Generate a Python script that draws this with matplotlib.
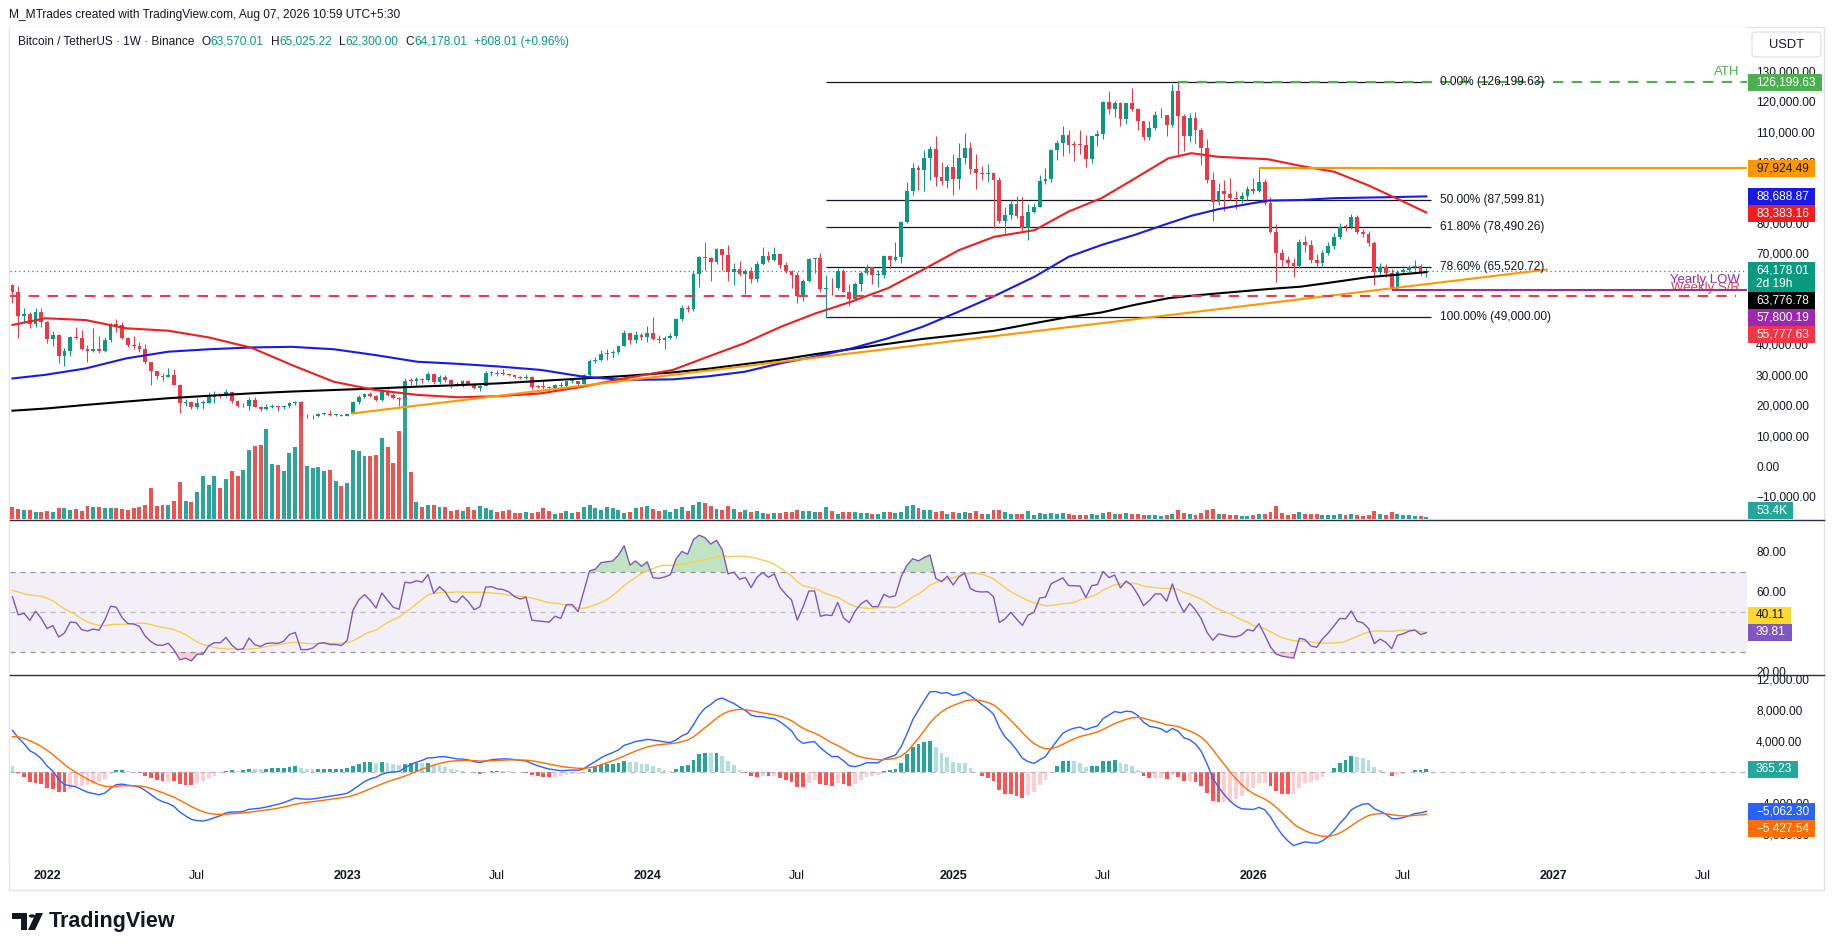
import numpy as np
import pandas as pd
import matplotlib
matplotlib.use("Agg")
import matplotlib.pyplot as plt
import matplotlib.dates as mdates
from matplotlib.patches import Rectangle, Polygon, Circle, FancyBboxPatch
from matplotlib.lines import Line2D

plt.rcParams['font.family'] = ['Liberation Sans', 'DejaVu Sans']

# ---------------- data (prices in thousand USDT) ----------------
# weekly closes before the visible window (Jul 2020 .. Nov 2021), only used to warm up RSI / MACD
warmup_closes = [9.3, 9.2, 9.9, 11.1, 11.7, 11.9, 11.7, 11.7, 10.3, 10.3, 10.9, 10.8, 10.7,
                 11.4, 11.5, 13.0, 13.8, 15.5, 16.0, 18.4, 18.2, 19.4, 19.2, 23.9, 26.3, 33.0,
                 38.2, 35.8, 32.3, 33.1, 39.3, 48.6, 57.5, 45.2, 51.2, 59.0, 57.5, 55.8, 58.2,
                 60.0, 56.2, 49.1, 56.6, 58.2, 46.4, 34.7, 35.7, 35.8, 39.1, 35.5, 34.7, 35.3,
                 34.3, 31.8, 35.4, 39.9, 43.8, 47.0, 49.3, 48.8, 51.8, 46.0, 47.3, 43.2, 48.2,
                 55.0, 61.5, 61.0, 61.3, 63.3, 65.0, 59.7]

# visible weekly candles, first bar = week of 2021-11-22
close_2021 = [57.3, 49.4, 50.1, 46.7, 50.8, 47.3]
high_2021 = [59.9, 59.1, 51.9, 50.5, 51.9, 52.1]
low_2021 = [53.6, 42.0, 47.1, 45.5, 45.6, 45.7]
vol_2021 = [350, 300, 270, 270, 220, 220]

close_2022 = [41.9, 43.1, 36.3, 37.9, 42.4, 42.2, 38.4, 37.7, 38.4, 37.8, 41.3, 46.8, 46.4,
              42.2, 39.7, 39.5, 38.5, 34.1, 31.3, 29.5, 29.4, 29.9, 26.6, 20.6, 21.0, 19.3,
              20.8, 20.8, 22.6, 23.3, 23.2, 24.3, 21.5, 19.6, 19.8, 21.8, 19.4, 18.8, 19.3,
              19.4, 19.3, 19.6, 20.6, 20.9, 16.3, 16.3, 16.5, 17.1, 17.2, 16.8, 16.8, 16.6]
high_2022 = [47.6, 44.5, 43.5, 38.9, 42.7, 45.8, 44.7, 39.8, 45.4, 42.6, 42.4, 47.0, 48.2,
             47.5, 42.4, 42.9, 40.8, 40.0, 34.3, 31.3, 30.6, 32.4, 31.8, 26.9, 21.9, 21.5,
             22.5, 21.6, 24.3, 24.7, 24.0, 25.2, 24.4, 21.8, 20.6, 22.8, 22.7, 19.9, 20.4,
             20.5, 19.9, 19.7, 21.0, 21.4, 21.5, 17.2, 16.8, 17.4, 17.4, 18.4, 17.0, 17.0]
low_2022 = [40.6, 39.6, 34.0, 32.9, 36.3, 41.7, 38.0, 34.3, 37.5, 37.2, 37.6, 40.9, 44.2,
            41.9, 39.2, 38.6, 37.6, 33.7, 26.7, 28.6, 28.0, 29.3, 26.5, 17.6, 19.6, 18.6,
            18.8, 18.9, 20.7, 20.7, 22.4, 22.6, 20.8, 19.5, 19.5, 18.5, 19.3, 18.1, 18.5,
            19.0, 18.2, 18.9, 19.2, 20.0, 15.6, 15.8, 15.5, 16.0, 16.9, 16.5, 16.3, 16.3]
vol_2022 = [250, 220, 330, 330, 270, 300, 250, 400, 370, 370, 320, 320, 320,
            300, 270, 320, 350, 430, 930, 380, 430, 430, 530, 1120, 550, 500,
            800, 1280, 1030, 1280, 930, 1200, 1430, 1300, 1480, 2080, 2180, 2230, 2700,
            1650, 1630, 1430, 1980, 2150, 3520, 1600, 1530, 1550, 1430, 1480, 1130, 1000]

close_2023 = [17.1, 20.9, 22.7, 23.7, 22.9, 21.8, 24.6, 23.5, 22.4, 22.1, 28.0, 27.9, 28.5,
              28.3, 30.3, 27.6, 29.2, 28.4, 26.9, 26.7, 28.0, 27.1, 25.8, 26.3, 30.5, 30.6,
              30.3, 30.2, 29.9, 29.3, 29.0, 29.3, 26.1, 26.0, 25.9, 25.8, 26.5, 26.2, 27.9,
              27.9, 27.1, 30.0, 34.5, 35.0, 37.0, 37.3, 37.5, 39.5, 43.8, 41.4, 43.0, 42.3]
high_2023 = [17.2, 21.3, 23.4, 23.9, 24.3, 23.2, 25.2, 25.3, 23.9, 22.6, 28.9, 28.9, 29.2,
             28.8, 30.9, 30.5, 30.0, 29.8, 28.6, 27.5, 28.4, 28.4, 27.4, 26.8, 31.4, 31.3,
             31.5, 31.8, 30.4, 30.0, 29.7, 30.2, 29.7, 26.8, 28.1, 26.4, 26.9, 27.5, 28.0,
             28.6, 28.0, 30.3, 35.3, 35.9, 38.0, 38.4, 38.0, 39.6, 44.7, 43.9, 44.4, 43.8]
low_2023 = [16.5, 17.1, 20.4, 22.3, 22.6, 21.4, 21.4, 23.1, 21.9, 19.6, 21.9, 26.6, 26.5,
            27.2, 28.1, 27.1, 26.9, 27.7, 25.8, 26.3, 25.9, 26.5, 25.4, 24.8, 26.2, 29.5,
            29.7, 29.9, 29.5, 28.9, 28.6, 28.7, 25.2, 25.8, 25.3, 24.9, 24.9, 26.0, 26.0,
            27.2, 26.5, 26.9, 29.7, 33.9, 34.5, 34.8, 35.6, 36.9, 39.4, 40.2, 40.5, 41.3]
vol_2023 = [1080, 2080, 2050, 1900, 1900, 1920, 2430, 2170, 1670, 2650, 3600, 1400, 500,
            350, 420, 420, 370, 350, 230, 280, 230, 350, 280, 380, 320, 280,
            220, 250, 280, 180, 170, 220, 180, 200, 320, 250, 150, 180, 250,
            180, 220, 350, 420, 320, 280, 350, 320, 280, 180, 220, 320, 350]

close_2024 = [43.9, 41.7, 41.6, 42.0, 42.6, 48.3, 52.1, 51.7, 63.1, 68.9, 68.4, 67.2, 71.3,
              69.4, 63.9, 64.9, 63.1, 64.0, 61.5, 66.3, 69.0, 67.8, 69.6, 66.2, 64.3, 62.7,
              55.9, 60.8, 68.2, 68.3, 58.1, 58.7, 58.4, 64.2, 57.3, 54.8, 59.9, 63.6, 65.6,
              62.8, 62.9, 69.0, 67.9, 68.7, 80.4, 90.6, 98.0, 97.2, 101.2, 104.3, 95.1, 93.7, 98.3]
high_2024 = [45.9, 49.0, 43.2, 42.8, 43.9, 48.6, 52.8, 52.9, 64.0, 69.2, 73.8, 68.9, 71.8,
             71.3, 72.8, 66.9, 67.3, 64.7, 65.5, 67.4, 71.9, 70.6, 72.0, 70.0, 67.0, 64.5,
             63.8, 61.4, 68.4, 68.5, 70.0, 62.7, 61.8, 65.0, 64.9, 59.8, 60.6, 64.1, 66.5,
             65.6, 64.5, 69.4, 69.5, 73.6, 80.5, 93.3, 99.6, 98.9, 104.0, 105.3, 108.4, 99.9, 98.9]
low_2024 = [40.7, 41.5, 40.6, 38.5, 41.8, 42.2, 47.7, 50.5, 50.9, 59.0, 64.5, 60.8, 66.4,
            64.5, 60.7, 59.6, 62.4, 56.5, 60.2, 60.6, 66.1, 67.1, 67.5, 65.0, 63.4, 58.4,
            53.5, 54.3, 60.6, 63.4, 57.1, 49.0, 56.1, 57.8, 57.2, 52.5, 54.6, 57.5, 62.7,
            59.8, 58.9, 62.0, 65.1, 67.5, 66.8, 80.0, 89.3, 90.8, 90.5, 94.2, 92.2, 92.5, 91.5]
vol_2024 = [380, 300, 250, 280, 220, 300, 350, 250, 420, 500, 470, 380, 300,
            260, 380, 300, 200, 260, 200, 230, 180, 150, 170, 180, 200, 220,
            280, 250, 230, 200, 220, 350, 230, 150, 200, 220, 200, 180, 170,
            150, 150, 200, 200, 170, 220, 380, 420, 320, 280, 260, 200, 230, 160]

close_2025 = [94.5, 101.3, 104.7, 97.7, 96.4, 96.1, 96.3, 94.2, 80.7, 82.6, 86.1, 82.3, 78.4,
              83.7, 85.1, 93.7, 94.3, 104.1, 106.4, 109.0, 105.7, 105.6, 105.5, 100.9, 108.4, 109.2,
              119.8, 117.3, 119.4, 114.2, 119.3, 117.4, 113.5, 108.2, 111.1, 115.3, 115.3, 112.2, 123.5,
              115.1, 108.6, 114.5, 110.5, 104.7, 94.2, 86.8, 90.4, 89.4, 88.2, 87.9, 88.8, 91.2]
high_2025 = [102.7, 106.4, 109.6, 106.5, 102.5, 98.8, 99.5, 96.5, 95.0, 85.3, 87.5, 88.8, 88.5,
             86.1, 86.4, 95.8, 97.9, 104.3, 107.1, 111.9, 110.4, 106.8, 110.6, 108.9, 108.5, 110.5,
             119.9, 123.2, 120.2, 119.8, 119.4, 124.5, 117.6, 113.5, 113.4, 116.7, 117.9, 115.4, 125.7,
             126.19963, 115.9, 116.0, 116.4, 111.2, 107.5, 96.6, 93.1, 94.1, 94.6, 90.4, 90.0, 92.0]
low_2025 = [89.3, 91.2, 99.5, 96.2, 91.2, 94.1, 93.4, 78.3, 80.0, 76.6, 81.2, 81.6, 77.1,
            74.5, 83.1, 85.1, 92.8, 93.4, 100.7, 102.1, 103.1, 100.4, 102.7, 98.2, 99.6, 105.1,
            107.5, 115.7, 114.7, 111.9, 112.6, 116.8, 110.6, 107.3, 107.3, 110.6, 114.4, 108.6, 111.6,
            102.0, 103.5, 106.6, 106.3, 98.9, 93.0, 80.6, 86.0, 83.8, 87.6, 84.4, 86.5, 87.2]
vol_2025 = [200, 180, 210, 190, 230, 150, 140, 260, 280, 200, 150, 140, 160,
            240, 130, 190, 140, 170, 150, 180, 140, 120, 110, 130, 160, 110,
            180, 200, 150, 140, 180, 160, 140, 130, 110, 110, 100, 120, 160,
            280, 190, 150, 130, 180, 260, 300, 150, 140, 120, 130, 90, 100]

close_2026 = [90.3, 93.5, 86.4, 77.0, 70.0, 67.8, 66.8, 65.8, 73.8, 72.7, 67.8, 66.7, 70.0,
              72.4, 75.4, 78.7, 78.5, 82.0, 77.0, 76.2, 73.3, 63.9, 65.6, 63.4, 58.9, 63.9,
              64.5, 65.5, 65.9, 63.57001, 64.17801]
high_2026 = [94.8, 97.92449, 94.5, 88.5, 79.5, 71.5, 69.2, 68.3, 74.8, 75.5, 74.2, 69.6, 70.9,
             73.6, 76.6, 79.8, 79.6, 82.9, 82.6, 78.0, 77.4, 73.9, 66.8, 66.3, 64.9, 64.4,
             65.1, 66.0, 67.6, 66.4, 65.02522]
low_2026 = [89.5, 90.0, 86.0, 76.5, 60.6, 65.7, 65.4, 62.3, 65.2, 70.4, 66.9, 65.3, 65.9,
            69.3, 71.5, 74.8, 77.3, 78.0, 76.3, 75.3, 72.5, 59.5, 62.5, 62.3, 57.80019, 58.3,
            63.0, 63.9, 64.6, 62.9, 62.3]
vol_2026 = [110, 160, 150, 200, 400, 180, 130, 150, 200, 160, 160, 140, 120,
            130, 120, 150, 110, 140, 130, 100, 120, 250, 140, 130, 200, 150,
            120, 110, 100, 90, 53.4]

# moving averages (k USDT)
ma_dates = ['2021-11-22', '2022-01-01', '2022-02-19', '2022-04-09', '2022-05-30', '2022-07-18',
            '2022-09-08', '2022-10-27', '2022-12-17', '2023-02-05', '2023-03-28', '2023-05-17',
            '2023-07-06', '2023-08-25', '2023-10-15', '2023-12-04', '2024-02-01', '2024-03-15',
            '2024-04-28', '2024-06-11', '2024-07-23', '2024-09-05', '2024-10-19', '2024-11-30',
            '2025-01-13', '2025-02-25', '2025-04-15', '2025-05-26', '2025-07-05', '2025-08-14',
            '2025-09-24', '2025-10-22', '2025-11-24', '2026-01-23', '2026-03-04', '2026-04-13',
            '2026-05-24', '2026-07-02', '2026-08-03']
ma50 = [46.4, 48.6, 48.0, 45.3, 44.5, 42.3, 38.9, 33.2, 27.7, 25.0, 23.4, 22.6, 23.0, 23.9,
        26.1, 28.8, 31.6, 36.0, 40.4, 45.8, 50.2, 54.1, 58.5, 64.5, 71.0, 75.4, 77.6, 83.7,
        88.1, 94.5, 101.2, 102.9, 101.7, 100.9, 98.7, 96.8, 92.4, 87.5, 83.38316]
ma100 = [28.8, 30.0, 32.1, 35.4, 37.6, 38.4, 39.0, 39.2, 38.4, 36.5, 34.3, 33.6, 32.7, 31.6,
         29.4, 28.3, 28.5, 29.5, 31.0, 33.8, 36.0, 38.7, 42.0, 45.8, 50.8, 55.9, 62.3, 68.8,
         72.7, 76.0, 79.8, 82.3, 84.5, 87.3, 87.5, 88.1, 88.3, 88.5, 88.68887]
ma200 = [18.2, 18.9, 20.1, 21.2, 22.3, 23.1, 23.9, 24.5, 25.0, 25.5, 26.1, 26.6, 27.2, 28.0,
         28.8, 29.6, 30.8, 32.0, 33.5, 35.0, 36.8, 38.5, 40.2, 41.8, 43.1, 44.5, 47.0, 49.0,
         50.5, 53.0, 55.2, 56.0, 56.8, 58.2, 59.0, 60.5, 62.1, 63.0, 63.77678]

# drawn levels (USDT)
fib_levels = [126199.63, 87599.81, 78490.26, 65520.72, 49000.00]
fib_names = ['0.00%', '50.00%', '61.80%', '78.60%', '100.00%']
ath_level = 126199.63
range_high = 97924.49
yearly_low = 57800.19
weekly_sr = 55777.63
trend_dates = ['2023-01-08', '2026-12-27']
trend_prices = [17300, 64600]

# last values shown in the legend and on the scales
last_price, countdown = 64178.01, '2d 19h'
change_abs, change_pct = 608.01, 0.96
last_vol = 53.4
rsi_last, rsi_ma_last = 39.81, 40.11
macd_last, signal_last, hist_last = -5062.30, -5427.54, 365.23

tick_dates = ['2022-01-03', '2022-07-04', '2023-01-02', '2023-07-03', '2024-01-01', '2024-07-01',
              '2025-01-06', '2025-07-07', '2026-01-05', '2026-07-06', '2027-01-04', '2027-07-05']
tick_labels = ['2022', 'Jul', '2023', 'Jul', '2024', 'Jul', '2025', 'Jul', '2026', 'Jul', '2027', 'Jul']

# ---------------- assemble ----------------
closes = np.array(close_2021 + close_2022 + close_2023 + close_2024 + close_2025 + close_2026) * 1000
highs = np.array(high_2021 + high_2022 + high_2023 + high_2024 + high_2025 + high_2026) * 1000
lows = np.array(low_2021 + low_2022 + low_2023 + low_2024 + low_2025 + low_2026) * 1000
volumes = np.array(vol_2021 + vol_2022 + vol_2023 + vol_2024 + vol_2025 + vol_2026)
opens = np.r_[warmup_closes[-1] * 1000, closes[:-1]]
dates = pd.date_range('2021-11-22', periods=len(closes), freq='7D')

# indicators
allc = pd.Series(np.r_[np.array(warmup_closes) * 1000, closes])
n0 = len(warmup_closes)
d = allc.diff().fillna(0)
gain = d.clip(lower=0).ewm(alpha=1 / 14, adjust=False).mean()
loss = (-d.clip(upper=0)).ewm(alpha=1 / 14, adjust=False).mean()
rsi_all = 100 - 100 / (1 + gain / loss)
rsi_ma_all = rsi_all.rolling(14).mean()
macd_all = allc.ewm(span=12, adjust=False).mean() - allc.ewm(span=26, adjust=False).mean()
sig_all = macd_all.ewm(span=9, adjust=False).mean()
hist_all = macd_all - sig_all
rsi = rsi_all.values[n0:]
rsi_ma = rsi_ma_all.values[n0:]
macd = macd_all.values[n0:]
sig = sig_all.values[n0:]
hist = hist_all.values[n0:]
hist_prev = hist_all.values[n0 - 1:-1]

# ---------------- figure ----------------
W, H = 1835, 951
fig = plt.figure(figsize=(W / 100, H / 100), dpi=100)
fig.patch.set_facecolor('white')


def fp(x, y):
    return x / W, 1 - y / H


PL, PR = 10, 1747
ax = fig.add_axes([PL / W, 1 - 519 / H, (PR - PL) / W, (519 - 27) / H])
ax_vol = fig.add_axes(ax.get_position(), sharex=ax)
ax_rsi = fig.add_axes([PL / W, 1 - 674 / H, (PR - PL) / W, (674 - 520) / H], sharex=ax)
ax_macd = fig.add_axes([PL / W, 1 - 862 / H, (PR - PL) / W, (862 - 675) / H], sharex=ax)
ax_vol.set_zorder(1)
ax.set_zorder(2)
ax.patch.set_visible(False)

TXT = '#131722'
FS = 8.6
UP, DN = '#089981', '#f23645'

for a in (ax, ax_vol, ax_rsi, ax_macd):
    for s in a.spines.values():
        s.set_visible(False)
    a.tick_params(axis='both', length=0, labelsize=FS, labelcolor=TXT)
    a.yaxis.tick_right()
    a.tick_params(axis='y', pad=6.5)
    a.tick_params(axis='x', labelbottom=False)
ax_vol.set_yticks([])
ax_vol.patch.set_facecolor('white')

ax.set_xlim(mdates.date2num(pd.Timestamp('2021-11-19')), mdates.date2num(pd.Timestamp('2027-08-27')))

# volume
vcol = np.where(closes >= opens, '#2aa597', '#ef5350')
ax_vol.bar(dates, volumes, width=4.8, color=vcol, linewidth=0)
ax_vol.set_ylim(0, 492 * 30)

# candles
ccol = np.where(closes >= opens, UP, DN)
ax.vlines(dates, lows, highs, colors=ccol, lw=0.75, zorder=3)
ax.bar(dates, np.maximum(np.abs(closes - opens), 300), bottom=np.minimum(opens, closes),
       width=4.6, color=ccol, linewidth=0, zorder=3)

# moving averages
mdt = pd.to_datetime(ma_dates)
ax.plot(mdt, np.array(ma200) * 1000, color='#000000', lw=1.5, zorder=4)
ax.plot(mdt, np.array(ma100) * 1000, color='#1a1ae6', lw=1.5, zorder=4)
ax.plot(mdt, np.array(ma50) * 1000, color='#f01e1e', lw=1.5, zorder=4)

# trend line and horizontals
ax.plot(pd.to_datetime(trend_dates), trend_prices, color='#ff9800', lw=1.5, zorder=4)
right_end = pd.Timestamp('2027-08-27')
ax.hlines(range_high, pd.Timestamp('2026-01-12'), right_end, color='#ff9800', lw=1.5, zorder=4)
ax.hlines(ath_level, pd.Timestamp('2025-10-06'), right_end, color='#4caf50', lw=1.5,
          linestyles=(0, (5, 4)), zorder=4)
ax.hlines(weekly_sr, pd.Timestamp('2021-11-19'), pd.Timestamp('2027-08-14'), color='#e04150', lw=1.5,
          linestyles=(0, (5, 4)), zorder=4)
ax.hlines(yearly_low, pd.Timestamp('2026-06-22'), right_end, color='#9c27b0', lw=1.5, zorder=4)
ax.axhline(last_price, color=UP, lw=0.9, ls=(0, (1, 2.5)), zorder=2)

fib_start, fib_end = pd.Timestamp('2024-08-05'), pd.Timestamp('2026-08-09')
ax.hlines(fib_levels, fib_start, fib_end, color='#131722', lw=0.9, zorder=2)
for lv, nm in zip(fib_levels, fib_names):
    ax.annotate(f'{nm} ({lv:,.2f})', xy=(fib_end, lv), xytext=(6, 0), textcoords='offset points',
                va='center', ha='left', fontsize=FS, color=TXT, zorder=5)

txt_x = pd.Timestamp('2027-08-18')
ax.annotate('ATH', xy=(txt_x, ath_level), xytext=(0, 3), textcoords='offset points',
            ha='right', va='bottom', fontsize=9.5, color='#4caf50')
ax.annotate('Weekly S/R', xy=(txt_x, weekly_sr), xytext=(0, 2), textcoords='offset points',
            ha='right', va='bottom', fontsize=9.5, color='#e04150')
ax.annotate('Yearly LOW', xy=(txt_x, yearly_low), xytext=(0, 3), textcoords='offset points',
            ha='right', va='bottom', fontsize=9.5, color='#9c27b0')

ax.set_ylim(-17430, 144400)
pt = np.arange(-10000, 130001, 10000)
ax.set_yticks(pt)
ax.set_yticklabels([f'{v:,.2f}'.replace('-', '\u2212') for v in pt])

# RSI
ax_rsi.axhspan(30, 70, color='#7e57c2', alpha=0.09, lw=0)
for lv, al in ((70, 0.8), (50, 0.45), (30, 0.8)):
    ax_rsi.axhline(lv, color='#787b86', lw=0.9, ls=(0, (4, 4)), alpha=al)
ax_rsi.fill_between(dates, rsi, 70, where=rsi > 70, interpolate=True, color='#4caf50', alpha=0.35, lw=0)
ax_rsi.fill_between(dates, rsi, 30, where=rsi < 30, interpolate=True, color='#f23645', alpha=0.25, lw=0)
ax_rsi.plot(dates, rsi_ma, color='#f7cf4f', lw=1)
ax_rsi.plot(dates, rsi, color='#7e57c2', lw=1)
ax_rsi.set_ylim(19, 96)
ax_rsi.set_yticks([20, 40, 60, 80])
ax_rsi.set_yticklabels(['20.00', '40.00', '60.00', '80.00'])

# MACD
hcol = np.where(hist >= 0, np.where(hist >= hist_prev, '#26a69a', '#b2dfdb'),
                np.where(hist < hist_prev, '#ff5252', '#ffcdd2'))
ax_macd.axhline(0, color='#b2b5be', lw=0.9, ls=(0, (4, 4)))
ax_macd.bar(dates, hist, width=4.6, color=hcol, linewidth=0)
ax_macd.plot(dates, macd, color='#2962ff', lw=1)
ax_macd.plot(dates, sig, color='#ff6d00', lw=1)
ax_macd.set_ylim(-11613, 12516)
mt = [-8000, -4000, 0, 4000, 8000, 12000]
ax_macd.set_yticks(mt)
ax_macd.set_yticklabels([f'{v:,.2f}'.replace('-', '\u2212') for v in mt])

ax_macd.set_xticks(pd.to_datetime(tick_dates))
ax_macd.set_xticklabels(tick_labels)
ax_macd.tick_params(axis='x', labelbottom=True, pad=6, labelsize=9)
for lab in ax_macd.get_xticklabels():
    if lab.get_text().isdigit():
        lab.set_fontweight('bold')

# ---------------- chrome ----------------
fig.add_artist(Rectangle(fp(9, 890), 1815 / W, 863 / H, transform=fig.transFigure,
                         fill=False, ec='#e0e3eb', lw=1, zorder=0))
for yy in (519.5, 674.5):
    fig.add_artist(Line2D([PL / W, 1824 / W], [1 - yy / H] * 2, transform=fig.transFigure,
                          color='#2a2e39', lw=1, zorder=5))

fig.text(*fp(9, 15), 'M_MTrades created with TradingView.com, Aug 07, 2026 10:59 UTC+5:30',
         fontsize=8.6, color=TXT, va='center', ha='left')

renderer = fig.canvas.get_renderer()


def put(x, y, s, color, **kw):
    t = fig.text(*fp(x, y), s, color=color, va='center', ha='left', **kw)
    return x + t.get_window_extent(renderer).width


LFS = 8.6
x = put(18, 42, 'Bitcoin / TetherUS \u00b7 1W \u00b7 Binance', TXT, fontsize=LFS)
for lab, val in (('O', opens[-1]), ('H', highs[-1]), ('L', lows[-1]), ('C', last_price)):
    x = put(x + 7, 42, lab, TXT, fontsize=LFS)
    x = put(x, 42, f'{val:,.2f}', UP, fontsize=LFS)
put(x + 7, 42, f'+{change_abs:,.2f} (+{change_pct:.2f}%)', UP, fontsize=LFS)

fig.add_artist(FancyBboxPatch(fp(1752, 57), 69 / W, 25 / H, boxstyle='round,pad=0,rounding_size=0.003',
                              transform=fig.transFigure, fc='white', ec='#e0e3eb', lw=1))
fig.text(*fp(1786, 44.5), 'USDT', fontsize=9.3, color=TXT, ha='center', va='center')


def scale_labels(a, items, direction):
    bb = a.get_position()
    top_lim, bot_lim = H - bb.y1 * H, H - bb.y0 * H
    boxes = []
    for v, lines, fc, tc in items:
        py = H - a.transData.transform((0, v))[1]
        boxes.append([py - 8.5, 17 + 13 * (len(lines) - 1), lines, fc, tc])
    if direction == 'down':
        boxes.sort(key=lambda b: b[0])
        prev = -1e9
        for b in boxes:
            b[0] = max(b[0], prev)
            prev = b[0] + b[1]
    else:
        boxes.sort(key=lambda b: -b[0])
        prev = 1e9
        for b in boxes:
            b[0] = min(b[0], prev - b[1])
            prev = b[0]
    for top, hh, lines, fc, tc in boxes:
        top = min(max(top, top_lim), bot_lim - hh)
        wmax = 0
        for k, s in enumerate(lines):
            t = fig.text(*fp(1756, top + 8.5 + 13 * k), s, color=tc, fontsize=FS,
                         va='center', ha='left', zorder=7)
            wmax = max(wmax, t.get_window_extent(renderer).width)
        fig.add_artist(Rectangle(fp(1748, top + hh), (wmax + 14) / W, hh / H,
                                 transform=fig.transFigure, fc=fc, ec='none', zorder=6))


scale_labels(ax, [(ath_level, [f'{ath_level:,.2f}'], '#4caf50', 'white'),
                  (range_high, [f'{range_high:,.2f}'], '#ff9800', TXT),
                  (ma100[-1] * 1000, [f'{ma100[-1] * 1000:,.2f}'], '#1a1ae6', 'white'),
                  (ma50[-1] * 1000, [f'{ma50[-1] * 1000:,.2f}'], '#f01e1e', 'white'),
                  (last_price, [f'{last_price:,.2f}', countdown], UP, 'white'),
                  (ma200[-1] * 1000, [f'{ma200[-1] * 1000:,.2f}'], '#000000', 'white'),
                  (yearly_low, [f'{yearly_low:,.2f}'], '#9c27b0', 'white'),
                  (weekly_sr, [f'{weekly_sr:,.2f}'], DN, 'white')], 'down')
scale_labels(ax_vol, [(last_vol, [f'{last_vol:.1f}K'], '#26a69a', 'white')], 'down')
scale_labels(ax_rsi, [(rsi_ma_last, [f'{rsi_ma_last:.2f}'], '#fdd835', TXT),
                      (rsi_last, [f'{rsi_last:.2f}'], '#7e57c2', 'white')], 'up')
scale_labels(ax_macd, [(hist_last, [f'{hist_last:,.2f}'], '#26a69a', 'white'),
                       (macd_last, [f'{macd_last:,.2f}'.replace('-', '\u2212')], '#2962ff', 'white'),
                       (signal_last, [f'{signal_last:,.2f}'.replace('-', '\u2212')], '#ff6d00', 'white')],
              'down')

# TradingView logo
logo = '#131722'
fig.add_artist(Polygon([fp(12, 913), fp(27, 913), fp(27, 930), fp(21, 930), fp(21, 919), fp(12, 919)],
                       closed=True, transform=fig.transFigure, fc=logo, ec='none'))
fig.add_artist(Circle(fp(32, 916), 3.2 / W, transform=fig.transFigure, fc=logo, ec='none'))
fig.add_artist(Polygon([fp(36, 913), fp(43, 913), fp(35, 930), fp(28, 930)],
                       closed=True, transform=fig.transFigure, fc=logo, ec='none'))
fig.text(*fp(49, 921), 'TradingView', fontsize=15.5, fontweight='bold', color=logo, va='center', ha='left')

fig.savefig('out.png', dpi=100)
